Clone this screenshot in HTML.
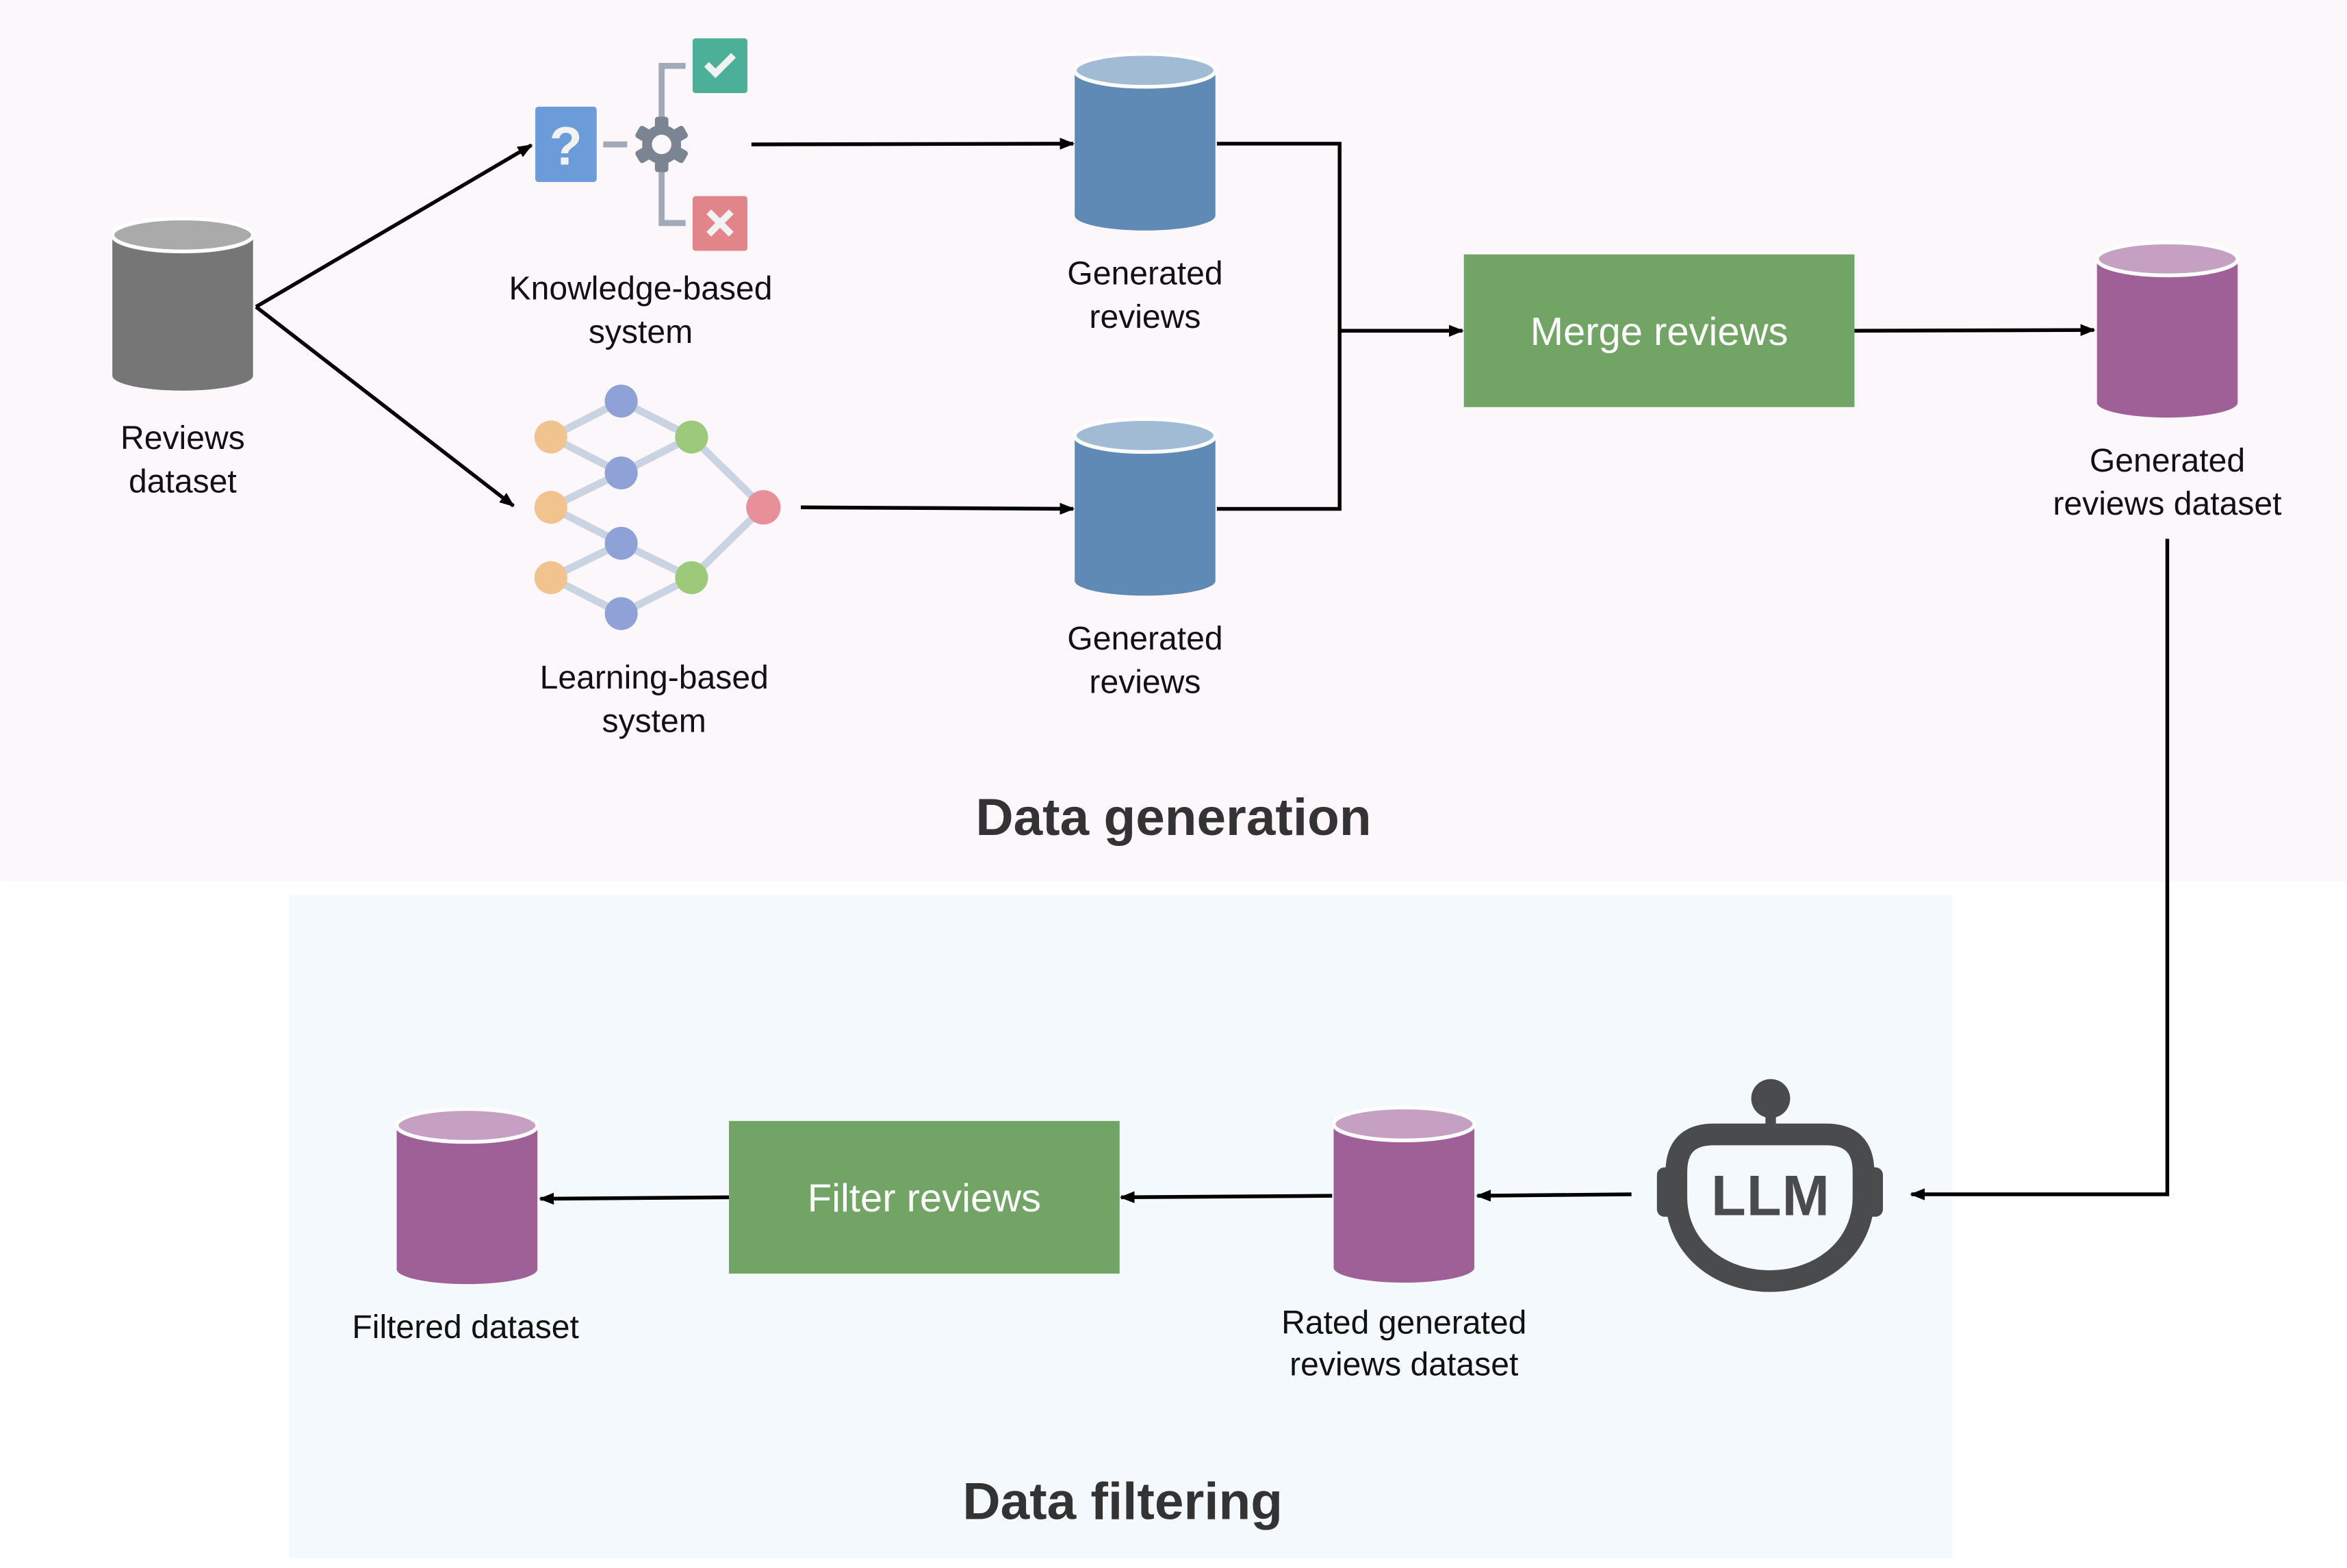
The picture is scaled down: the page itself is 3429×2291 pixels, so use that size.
<!DOCTYPE html>
<html><head><meta charset="utf-8"><style>
html,body{margin:0;padding:0;background:#fff}
svg{display:block}
text{font-family:"Liberation Sans","DejaVu Sans",sans-serif}
</style></head><body>
<svg width="3429" height="2291" viewBox="0 0 1568 1047.7" xmlns="http://www.w3.org/2000/svg">
<defs>
<marker id="ah" markerWidth="10" markerHeight="8" refX="9" refY="4" orient="auto" markerUnits="userSpaceOnUse"><path d="M0,0 L10,4 L0,8 Z" fill="#000"/></marker>
<g id="cylG"><rect x="0" y="0" width="94" height="94" fill="#767676"/><ellipse cx="47" cy="94" rx="47" ry="10" fill="#767676"/><ellipse cx="47" cy="0" rx="47" ry="11" fill="#aaaaaa" stroke="#fff" stroke-width="2.5"/></g>
<g id="cylB"><rect x="0" y="0" width="94" height="97" fill="#5f8ab5"/><ellipse cx="47" cy="97" rx="47" ry="10" fill="#5f8ab5"/><ellipse cx="47" cy="0" rx="47" ry="11" fill="#a1bbd5" stroke="#fff" stroke-width="2.5"/></g>
<g id="cylP"><rect x="0" y="0" width="94" height="96" fill="#9e6097"/><ellipse cx="47" cy="96" rx="47" ry="10" fill="#9e6097"/><ellipse cx="47" cy="0" rx="47" ry="11" fill="#c6a0c2" stroke="#fff" stroke-width="2.5"/></g>
</defs>
<rect x="0" y="0" width="1568" height="589" fill="#fcf7fb"/>
<rect x="193" y="598" width="1111" height="443" fill="#f4f9fd"/>

<use href="#cylG" x="75" y="157"/>
<use href="#cylB" x="718" y="47"/>
<use href="#cylB" x="718" y="291"/>
<use href="#cylP" x="1401" y="173"/>
<use href="#cylP" x="891" y="751"/>
<use href="#cylP" x="265" y="752"/>

<rect x="978" y="170" width="261" height="102" fill="#72a465"/>
<text x="1108.5" y="230.5" font-size="26.5" fill="#fff" text-anchor="middle">Merge reviews</text>
<rect x="487" y="749" width="261" height="102" fill="#72a465"/>
<text x="617.5" y="809.5" font-size="26.5" fill="#fff" text-anchor="middle">Filter reviews</text>

<g>
<path d="M458,44 H442 V80 M442,114 V149 H458" stroke="#a1aab6" stroke-width="4" fill="none"/>
<line x1="403" y1="96.5" x2="419" y2="96.5" stroke="#a1aab6" stroke-width="4"/>
<rect x="357.6" y="71.3" width="41" height="50.3" rx="2" fill="#6c9bd9"/>
<text x="378" y="110" font-size="36" font-weight="bold" fill="#f2f2f2" text-anchor="middle">?</text>
<g transform="translate(442,96.5)" fill="#7b8491">
<circle r="13"/>
<g><rect x="-4.5" y="-18.5" width="9" height="37" rx="2"/><rect x="-4.5" y="-18.5" width="9" height="37" rx="2" transform="rotate(60)"/><rect x="-4.5" y="-18.5" width="9" height="37" rx="2" transform="rotate(120)"/></g>
<circle r="6.5" fill="#fcf7fb"/>
</g>
<rect x="462.7" y="25.6" width="36.6" height="36.6" rx="2" fill="#4caf98"/>
<path d="M472,43 L478,49 L490,37" stroke="#f2f2f2" stroke-width="4.5" fill="none"/>
<rect x="462.7" y="131" width="36.6" height="36.6" rx="2" fill="#e2858b"/>
<path d="M473.5,141.5 L488.5,156.5 M488.5,141.5 L473.5,156.5" stroke="#f2f2f2" stroke-width="4.5"/>
</g>

<g stroke="#c9d3e2" stroke-width="5">
<line x1="368" y1="292" x2="415" y2="268"/><line x1="368" y1="292" x2="415" y2="316"/>
<line x1="368" y1="339" x2="415" y2="316"/><line x1="368" y1="339" x2="415" y2="363"/>
<line x1="368" y1="386" x2="415" y2="363"/><line x1="368" y1="386" x2="415" y2="410"/>
<line x1="415" y1="268" x2="462" y2="292"/><line x1="415" y1="316" x2="462" y2="292"/>
<line x1="415" y1="363" x2="462" y2="386"/><line x1="415" y1="410" x2="462" y2="386"/>
<line x1="462" y1="292" x2="510" y2="339"/><line x1="462" y1="386" x2="510" y2="339"/>
</g>
<g>
<circle cx="368" cy="292" r="11" fill="#f1c48f"/><circle cx="368" cy="339" r="11" fill="#f1c48f"/><circle cx="368" cy="386" r="11" fill="#f1c48f"/>
<circle cx="415" cy="268" r="11" fill="#8ea2d8"/><circle cx="415" cy="316" r="11" fill="#8ea2d8"/><circle cx="415" cy="363" r="11" fill="#8ea2d8"/><circle cx="415" cy="410" r="11" fill="#8ea2d8"/>
<circle cx="462" cy="292" r="11" fill="#9cca7a"/><circle cx="462" cy="386" r="11" fill="#9cca7a"/>
<circle cx="510" cy="339" r="11.5" fill="#e8909a"/>
</g>

<g fill="#4a4b4d">
<circle cx="1183" cy="734" r="13"/>
<rect x="1179.5" y="740" width="7" height="16"/>
<rect x="1107" y="780" width="12" height="33" rx="5"/>
<rect x="1246" y="780" width="12" height="33" rx="5"/>
<path d="M1145,758 H1220 Q1245,758 1245,783 V800 C1245,833 1217,856 1182.5,856 C1148,856 1120,833 1120,800 V783 Q1120,758 1145,758 Z" stroke="#4a4b4d" stroke-width="14.5" fill="none"/>
<text x="1183" y="812" font-size="38" font-weight="bold" text-anchor="middle" letter-spacing="0.5">LLM</text>
</g>

<g stroke="#000" stroke-width="2.5" fill="none">
<line x1="171" y1="205" x2="355" y2="97" marker-end="url(#ah)"/>
<line x1="171" y1="205" x2="343" y2="338" marker-end="url(#ah)"/>
<line x1="502" y1="96.5" x2="717" y2="96" marker-end="url(#ah)"/>
<line x1="535" y1="339" x2="717" y2="340" marker-end="url(#ah)"/>
<path d="M813,96 H895 V340 H813"/>
<line x1="895" y1="221" x2="977" y2="221" marker-end="url(#ah)"/>
<line x1="1239" y1="221" x2="1399" y2="220.5" marker-end="url(#ah)"/>
<path d="M1448,360 V798 H1277" marker-end="url(#ah)"/>
<line x1="1090" y1="798" x2="987" y2="799" marker-end="url(#ah)"/>
<line x1="890" y1="799" x2="749" y2="800" marker-end="url(#ah)"/>
<line x1="487" y1="800" x2="361" y2="801" marker-end="url(#ah)"/>
</g>

<g font-size="22" fill="#111" text-anchor="middle">
<text x="122" y="300">Reviews</text><text x="122" y="329">dataset</text>
<text x="428" y="200">Knowledge-based</text><text x="428" y="229">system</text>
<text x="765" y="190">Generated</text><text x="765" y="219">reviews</text>
<text x="765" y="434">Generated</text><text x="765" y="463">reviews</text>
<text x="437" y="460">Learning-based</text><text x="437" y="489">system</text>
<text x="1448" y="315">Generated</text><text x="1448" y="344">reviews dataset</text>
<text x="311" y="894">Filtered dataset</text>
<text x="938" y="891">Rated generated</text><text x="938" y="919">reviews dataset</text>
</g>
<text x="784" y="558" font-size="35" font-weight="bold" fill="#333" text-anchor="middle">Data generation</text>
<text x="750" y="1015" font-size="35" font-weight="bold" fill="#333" text-anchor="middle">Data filtering</text>
</svg>
</body></html>
